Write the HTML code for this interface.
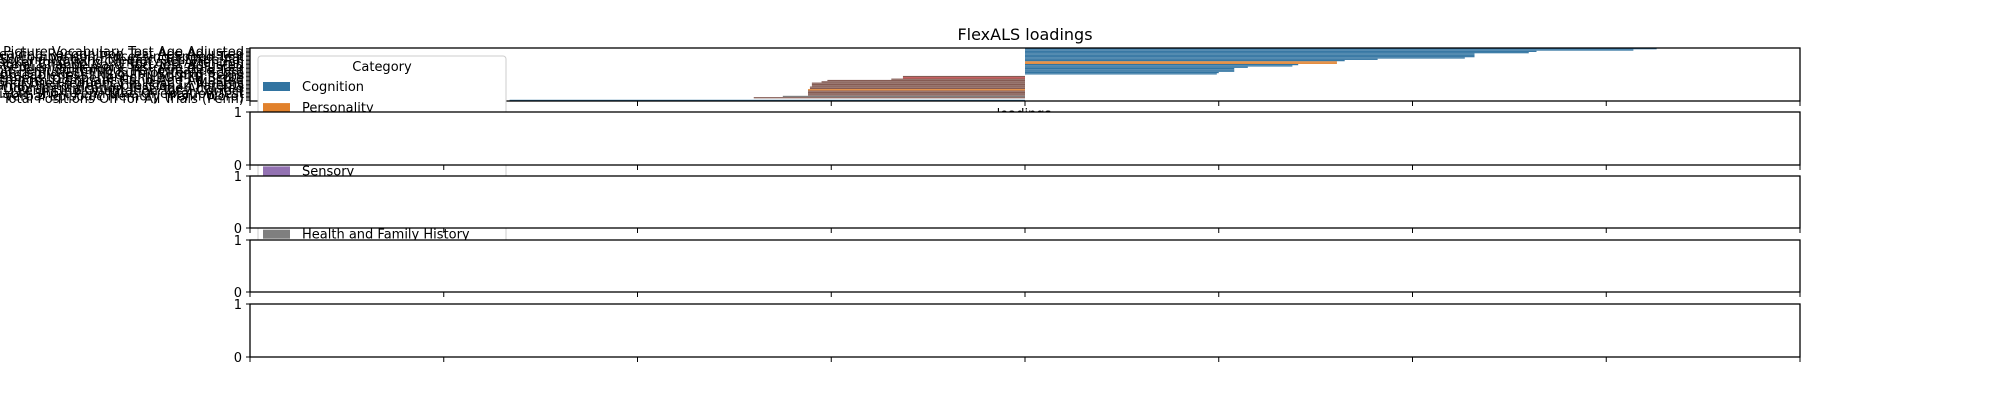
<!DOCTYPE html>
<html><head><meta charset="utf-8"><style>
body{margin:0;background:#fff;}
svg{display:block;font-family:"DejaVu Sans","Liberation Sans",sans-serif;}
</style></head><body>
<svg id="chart" width="2000" height="400" viewBox="0 0 2000 400" xmlns="http://www.w3.org/2000/svg">
<rect width="2000" height="400" fill="#fff"/>
<text x="1025" y="40" font-size="16" text-anchor="middle">FlexALS loadings</text>
<g id="ylabels"></g>
<g id="p1"></g>
<text x="1024" y="118" font-size="13" text-anchor="middle">loadings</text>
<g id="legend"></g>
<g id="others"></g>
</svg>
<script>
const NS="http://www.w3.org/2000/svg";
const categories=["Cognition","Personality","Emotion","Motor","Sensory","Substance Use","Psychiatric","Health and Family History"];
const colors=["#3274a1","#e1812c","#3a923a","#c03d3e","#9372b2","#845b53","#d684bd","#7f7f7f"];
const loadings=[3.26,3.14,2.64,2.60,2.32,2.32,2.32,2.27,1.82,1.65,1.61,1.61,1.41,1.38,1.15,1.08,1.08,1.08,1.0,0.99,0,-0.63,-0.63,-0.69,-1.02,-1.05,-1.10,-1.10,-1.10,-1.11,-1.11,-1.12,-1.12,-1.12,-1.12,-1.12,-1.25,-1.40,0,-2.66];
const barCats=[0,0,0,0,0,0,0,0,0,0,1,1,0,0,0,0,0,0,0,0,0,5,3,5,5,5,5,5,5,5,5,1,5,5,5,5,7,5,0,0];
const yLabels=["Picture Vocabulary Test Age Adjusted","Oral Reading Recognition Test Age Adjusted","Pattern Comparison Processing Speed Test","List Sorting Working Memory Test Age Adj","Flanker Inhibitory Control and Attention","Dimensional Change Card Sort Test Adjusted","Picture Sequence Memory Test Age Adjusted","Short Penn Continuous Performance Test","Neuroticism (NEO-FFI) Sum of Items Score","Agreeableness (NEO-FFI) Sum of Items","Openness to Experience (NEO-FFI) Score","Grip Strength Dominant Hand Age Adjusted","Alcohol Use Frequency in Past 12 Months","Family History of Depression in Parents","Odor Identification Test Age Adjusted","Penn Line Orientation Total Correct","Variable Short Penn Line Orientation Test","Non-Verbal Episodic Memory (Penn Word)","Total Positions Off for All Trials (Penn)"];
const xMin=-4,xMax=4;
const L=250,R=1800;
const xs=v=>L+(v-xMin)/(xMax-xMin)*(R-L);
function el(t,a,p,txt){const e=document.createElementNS(NS,t);for(const k in a)e.setAttribute(k,a[k]);if(txt!==undefined)e.textContent=txt;p.appendChild(e);return e;}
const p1=document.getElementById('p1');
const T=48,B=101,n=loadings.length,band=(B-T)/n;
loadings.forEach((v,i)=>{
  const y=T+i*band;
  const r=el('rect',{x:Math.min(xs(0),xs(v)),y:y+0.1,width:Math.abs(xs(v)-xs(0)),height:band*0.92,fill:colors[barCats[i]]},p1);
  
  
});
el('rect',{x:L,y:T,width:R-L,height:B-T,fill:'none',stroke:'#000','stroke-width':1.3},p1);
for(let i=0;i<n;i++)el('line',{x1:L-4,x2:L,y1:T+(i+0.5)*band,y2:T+(i+0.5)*band,stroke:'#000','stroke-width':0.8},p1);
const ticks=[-4,-3,-2,-1,0,1,2,3,4];
ticks.forEach(t=>el('line',{x1:xs(t),x2:xs(t),y1:B,y2:B+5,stroke:'#000','stroke-width':1},p1));
const yl=document.getElementById('ylabels');
yLabels.forEach((s,i)=>{
  const y=T+8+i*(B-T-6)/(yLabels.length-1);
  const t=el('text',{x:L-6,y:y,'font-size':13,'text-anchor':'end'},yl,s);
  
  
});
const lg=document.getElementById('legend');
el('rect',{x:258,y:56,width:248,height:200,fill:'#fff',stroke:'#ccc','stroke-width':1,rx:3},lg);
el('text',{x:382,y:71,'font-size':13,'text-anchor':'middle'},lg,'Category');
categories.forEach((c,i)=>{
  const y=87+i*21.1;
  const g=el('g',{},lg);
  
  
  el('rect',{x:263,y:y-5,width:27,height:9,fill:colors[i]},g);
  el('text',{x:302,y:y+4,'font-size':13},g,c);
});
const ot=document.getElementById('others');
const panels=[[112,165],[176,228],[240,292],[304,357]];
panels.forEach(([t,b])=>{
  const g=el('g',{},ot);
  
  
  el('rect',{x:L,y:t,width:R-L,height:b-t,fill:'#fff',stroke:'#000','stroke-width':1.3},g);
  el('line',{x1:L-4,x2:L,y1:t,y2:t,stroke:'#000'},g);
  el('line',{x1:L-4,x2:L,y1:b,y2:b,stroke:'#000'},g);
  el('text',{x:L-8,y:t+5,'font-size':13,'text-anchor':'end'},g,'1');
  el('text',{x:L-8,y:b+5,'font-size':13,'text-anchor':'end'},g,'0');
  ticks.forEach(tk=>el('line',{x1:xs(tk),x2:xs(tk),y1:b,y2:b+5,stroke:'#000'},g));
});
</script>
</body></html>
